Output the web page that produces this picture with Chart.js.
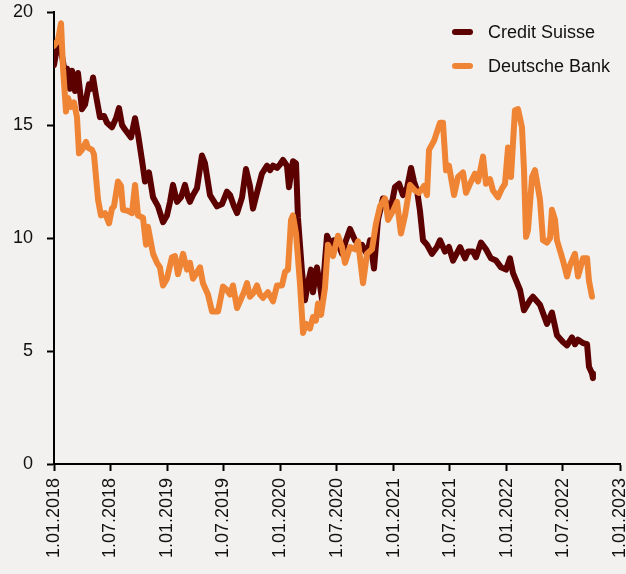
<!DOCTYPE html>
<html>
<head>
<meta charset="utf-8">
<script src="https://cdn.jsdelivr.net/npm/chart.js@4.4.1/dist/chart.umd.min.js"></script>
<style>
  html, body { margin: 0; padding: 0; background: #f2f1ef; overflow: hidden; }
  #wrap { position: relative; width: 626px; height: 574px; overflow: hidden; }
  canvas { position: absolute; left: 0; top: 0; }
  .legend { position: absolute; left: 452px; top: 15px; font: 18px "Liberation Sans", Arial, sans-serif; color: #111; }
  .legend div { height: 34px; line-height: 34px; white-space: nowrap; }
  .legend span { display: inline-block; width: 21px; height: 6px; border-radius: 3px; vertical-align: middle; margin-right: 15px; position: relative; top: -1px; }
</style>
</head>
<body>
<div id="wrap">
  <canvas id="myChart" width="640" height="574"></canvas>
  <div class="legend">
    <div><span style="background:#5c0000"></span>Credit Suisse</div>
    <div><span style="background:#ee8434"></span>Deutsche Bank</div>
  </div>
</div>
<script>
const xTickLabels = ['1.01.2018', '1.07.2018', '1.01.2019', '1.07.2019', '1.01.2020', '1.07.2020',
    '1.01.2021', '1.07.2021', '1.01.2022', '1.07.2022', '1.01.2023'];

// dates as decimal years
const csYears = [2018.000, 2018.027, 2018.062, 2018.097, 2018.115, 2018.141, 2018.159, 2018.186, 2018.212, 2018.247,
    2018.274, 2018.309, 2018.327, 2018.345, 2018.371, 2018.406, 2018.442, 2018.468, 2018.512, 2018.548,
    2018.574, 2018.601, 2018.627, 2018.680, 2018.716, 2018.742, 2018.777, 2018.804, 2018.839, 2018.875,
    2018.919, 2018.963, 2018.998, 2019.025, 2019.051, 2019.087, 2019.122, 2019.157, 2019.184, 2019.201,
    2019.228, 2019.263, 2019.307, 2019.334, 2019.378, 2019.440, 2019.484, 2019.528, 2019.555, 2019.590,
    2019.617, 2019.661, 2019.696, 2019.731, 2019.758, 2019.793, 2019.837, 2019.882, 2019.908, 2019.935,
    2019.970, 2019.996, 2020.023, 2020.058, 2020.076, 2020.111, 2020.138, 2020.155, 2020.191, 2020.217,
    2020.244, 2020.270, 2020.288, 2020.323, 2020.350, 2020.367, 2020.394, 2020.412, 2020.447, 2020.473,
    2020.500, 2020.544, 2020.580, 2020.615, 2020.659, 2020.694, 2020.721, 2020.739, 2020.765, 2020.792,
    2020.827, 2020.862, 2020.906, 2020.933, 2020.968, 2021.012, 2021.048, 2021.083, 2021.118, 2021.154,
    2021.180, 2021.207, 2021.233, 2021.260, 2021.295, 2021.339, 2021.383, 2021.410, 2021.454, 2021.489,
    2021.525, 2021.587, 2021.631, 2021.657, 2021.701, 2021.728, 2021.772, 2021.816, 2021.860, 2021.905,
    2021.949, 2021.993, 2022.028, 2022.055, 2022.117, 2022.152, 2022.205, 2022.231, 2022.293, 2022.355,
    2022.399, 2022.443, 2022.496, 2022.532, 2022.576, 2022.602, 2022.629, 2022.673, 2022.709, 2022.726,
    2022.753, 2022.761];
const csValues = [17.65, 18.45, 18.3, 17.3, 17.5, 16.6, 17.4, 16.5, 17.3, 15.7,
    15.9, 16.8, 16.6, 17.1, 16.3, 15.35, 15.4, 15.1, 14.9, 15.3,
    15.75, 15.0, 14.8, 14.45, 15.3, 14.6, 13.45, 12.5, 12.9, 11.8,
    11.4, 10.7, 11.0, 11.6, 12.35, 11.6, 11.8, 12.35, 11.8, 11.6,
    11.9, 12.2, 13.65, 13.3, 11.9, 11.4, 11.5, 12.05, 11.9, 11.4,
    11.1, 11.8, 13.05, 12.3, 11.3, 12.0, 12.85, 13.2, 13.0, 13.2,
    13.1, 13.25, 13.45, 13.2, 12.25, 13.4, 13.3, 10.9, 8.5, 7.25,
    8.0, 8.6, 7.6, 8.7, 7.9, 7.3, 9.0, 10.1, 9.7, 9.9,
    9.9, 9.3, 9.9, 10.4, 9.9, 9.7, 9.7, 9.5, 9.3, 9.9,
    8.65, 10.8, 11.75, 11.6, 11.1, 12.25, 12.4, 11.9, 12.2, 13.1,
    12.5, 12.1, 11.2, 9.9, 9.7, 9.3, 9.6, 9.9, 9.4, 9.6,
    9.0, 9.6, 9.1, 9.4, 9.4, 9.15, 9.8, 9.5, 9.1, 9.0,
    8.7, 8.6, 9.1, 8.45, 7.7, 6.8, 7.25, 7.4, 7.05, 6.2,
    6.7, 5.7, 5.4, 5.25, 5.6, 5.3, 5.5, 5.35, 5.3, 4.3,
    4.0, 3.8];

const dbYears = [2018.000, 2018.035, 2018.062, 2018.080, 2018.106, 2018.124, 2018.150, 2018.177, 2018.203, 2018.221,
    2018.247, 2018.283, 2018.300, 2018.336, 2018.353, 2018.389, 2018.415, 2018.451, 2018.486, 2018.512,
    2018.530, 2018.565, 2018.592, 2018.610, 2018.654, 2018.689, 2018.716, 2018.742, 2018.786, 2018.813,
    2018.830, 2018.875, 2018.910, 2018.936, 2018.963, 2018.998, 2019.042, 2019.069, 2019.095, 2019.140,
    2019.175, 2019.201, 2019.228, 2019.290, 2019.316, 2019.360, 2019.396, 2019.449, 2019.493, 2019.528,
    2019.555, 2019.581, 2019.617, 2019.643, 2019.678, 2019.705, 2019.731, 2019.767, 2019.793, 2019.820,
    2019.846, 2019.890, 2019.935, 2019.970, 2020.014, 2020.041, 2020.067, 2020.094, 2020.111, 2020.138,
    2020.173, 2020.200, 2020.226, 2020.261, 2020.288, 2020.314, 2020.332, 2020.359, 2020.394, 2020.420,
    2020.465, 2020.509, 2020.544, 2020.571, 2020.615, 2020.659, 2020.686, 2020.730, 2020.765, 2020.809,
    2020.845, 2020.880, 2020.924, 2020.951, 2020.995, 2021.030, 2021.065, 2021.101, 2021.145, 2021.189,
    2021.224, 2021.269, 2021.295, 2021.313, 2021.357, 2021.410, 2021.436, 2021.463, 2021.489, 2021.534,
    2021.569, 2021.613, 2021.640, 2021.675, 2021.719, 2021.746, 2021.790, 2021.816, 2021.852, 2021.878,
    2021.922, 2021.958, 2021.984, 2022.011, 2022.037, 2022.072, 2022.099, 2022.134, 2022.152, 2022.170,
    2022.187, 2022.223, 2022.249, 2022.276, 2022.293, 2022.320, 2022.355, 2022.382, 2022.399, 2022.426,
    2022.443, 2022.479, 2022.496, 2022.532, 2022.558, 2022.602, 2022.629, 2022.673, 2022.709, 2022.726,
    2022.753];
const dbValues = [18.5, 18.75, 19.5, 17.5, 15.6, 16.2, 15.8, 16.0, 15.35, 13.75,
    13.9, 14.25, 14.0, 13.9, 13.7, 11.7, 11.0, 11.1, 10.65, 11.3,
    11.4, 12.5, 12.3, 11.25, 11.2, 11.1, 12.35, 11.0, 10.9, 9.7,
    10.5, 9.3, 8.9, 8.7, 7.9, 8.2, 9.15, 9.2, 8.4, 9.3,
    8.6, 8.9, 8.2, 8.7, 8.0, 7.5, 6.75, 6.75, 7.85, 7.7,
    7.5, 7.9, 6.9, 7.2, 7.6, 8.0, 7.4, 7.6, 7.9, 7.5,
    7.35, 7.6, 7.2, 7.9, 7.9, 8.5, 8.6, 10.8, 11.0, 10.2,
    8.0, 5.8, 6.2, 6.0, 6.5, 6.35, 7.1, 6.6, 7.8, 9.7,
    9.2, 10.1, 9.6, 8.9, 9.6, 9.5, 9.85, 8.0, 9.3, 9.5,
    10.65, 11.4, 11.75, 10.8, 11.2, 11.6, 10.2, 11.0, 12.35, 12.1,
    12.0, 12.3, 11.9, 13.9, 14.3, 15.1, 15.1, 13.0, 13.2, 11.9,
    12.7, 12.9, 12.0, 12.4, 12.85, 12.5, 13.6, 12.4, 12.6, 12.1,
    11.8, 12.2, 12.4, 14.0, 12.7, 15.65, 15.7, 14.9, 13.0, 10.05,
    10.35, 12.7, 13.0, 12.2, 11.7, 9.9, 9.8, 10.0, 11.25, 10.8,
    9.9, 9.3, 9.0, 8.3, 8.8, 9.3, 8.3, 9.1, 9.1, 8.1,
    7.4];

// '1.07.2018' -> 2018.496
function toYear(label) {
    const p = label.split('.');
    const y = +p[2];
    const start = Date.UTC(y, 0, 1);
    const t = Date.UTC(y, +p[1] - 1, +p[0]);
    return y + (t - start) / (Date.UTC(y + 1, 0, 1) - start);
}
const xTickValues = xTickLabels.map(toYear);

const font = { family: '"Liberation Sans", Arial, sans-serif', size: 18 };

const config = {
    type: 'line',
    data: {
        datasets: [{
            label: 'Credit Suisse',
            data: csYears.map((x, i) => ({ x: x, y: csValues[i] })),
            borderColor: '#5c0000',
            order: 2
        }, {
            label: 'Deutsche Bank',
            data: dbYears.map((x, i) => ({ x: x, y: dbValues[i] })),
            borderColor: '#ee8434',
            order: 1
        }]
    },
    options: {
        responsive: false,
        animation: false,
        layout: { padding: { top: 12, right: 20, left: 0, bottom: 0 } },
        elements: {
            line: { borderWidth: 6, tension: 0, borderJoinStyle: 'round', borderCapStyle: 'round' },
            point: { radius: 0 }
        },
        plugins: { legend: { display: false }, tooltip: { enabled: false } },
        scales: {
            x: {
                type: 'linear',
                min: 2018,
                max: 2023,
                afterBuildTicks: (s) => { s.ticks = xTickValues.map(v => ({ value: v })); },
                afterFit: (s) => { s.height = 110; s.paddingLeft = 0; s.paddingRight = 0; },
                grid: { drawOnChartArea: false, tickLength: 7, tickWidth: 2, tickColor: '#000' },
                border: { color: '#000', width: 2 },
                ticks: {
                    autoSkip: false,
                    minRotation: 90,
                    maxRotation: 90,
                    padding: 7,
                    color: '#111',
                    font: font,
                    callback: (v, i) => xTickLabels[i]
                }
            },
            y: {
                min: 0,
                max: 20,
                afterFit: (s) => { s.width = 54; s.paddingTop = 0; s.paddingBottom = 0; },
                grid: { drawOnChartArea: false, tickLength: 7, tickWidth: 2, tickColor: '#000' },
                border: { color: '#000', width: 2 },
                ticks: { stepSize: 5, padding: 14, color: '#111', font: font }
            }
        }
    }
};

var myChart = new Chart(document.getElementById('myChart'), config);
</script>
</body>
</html>
